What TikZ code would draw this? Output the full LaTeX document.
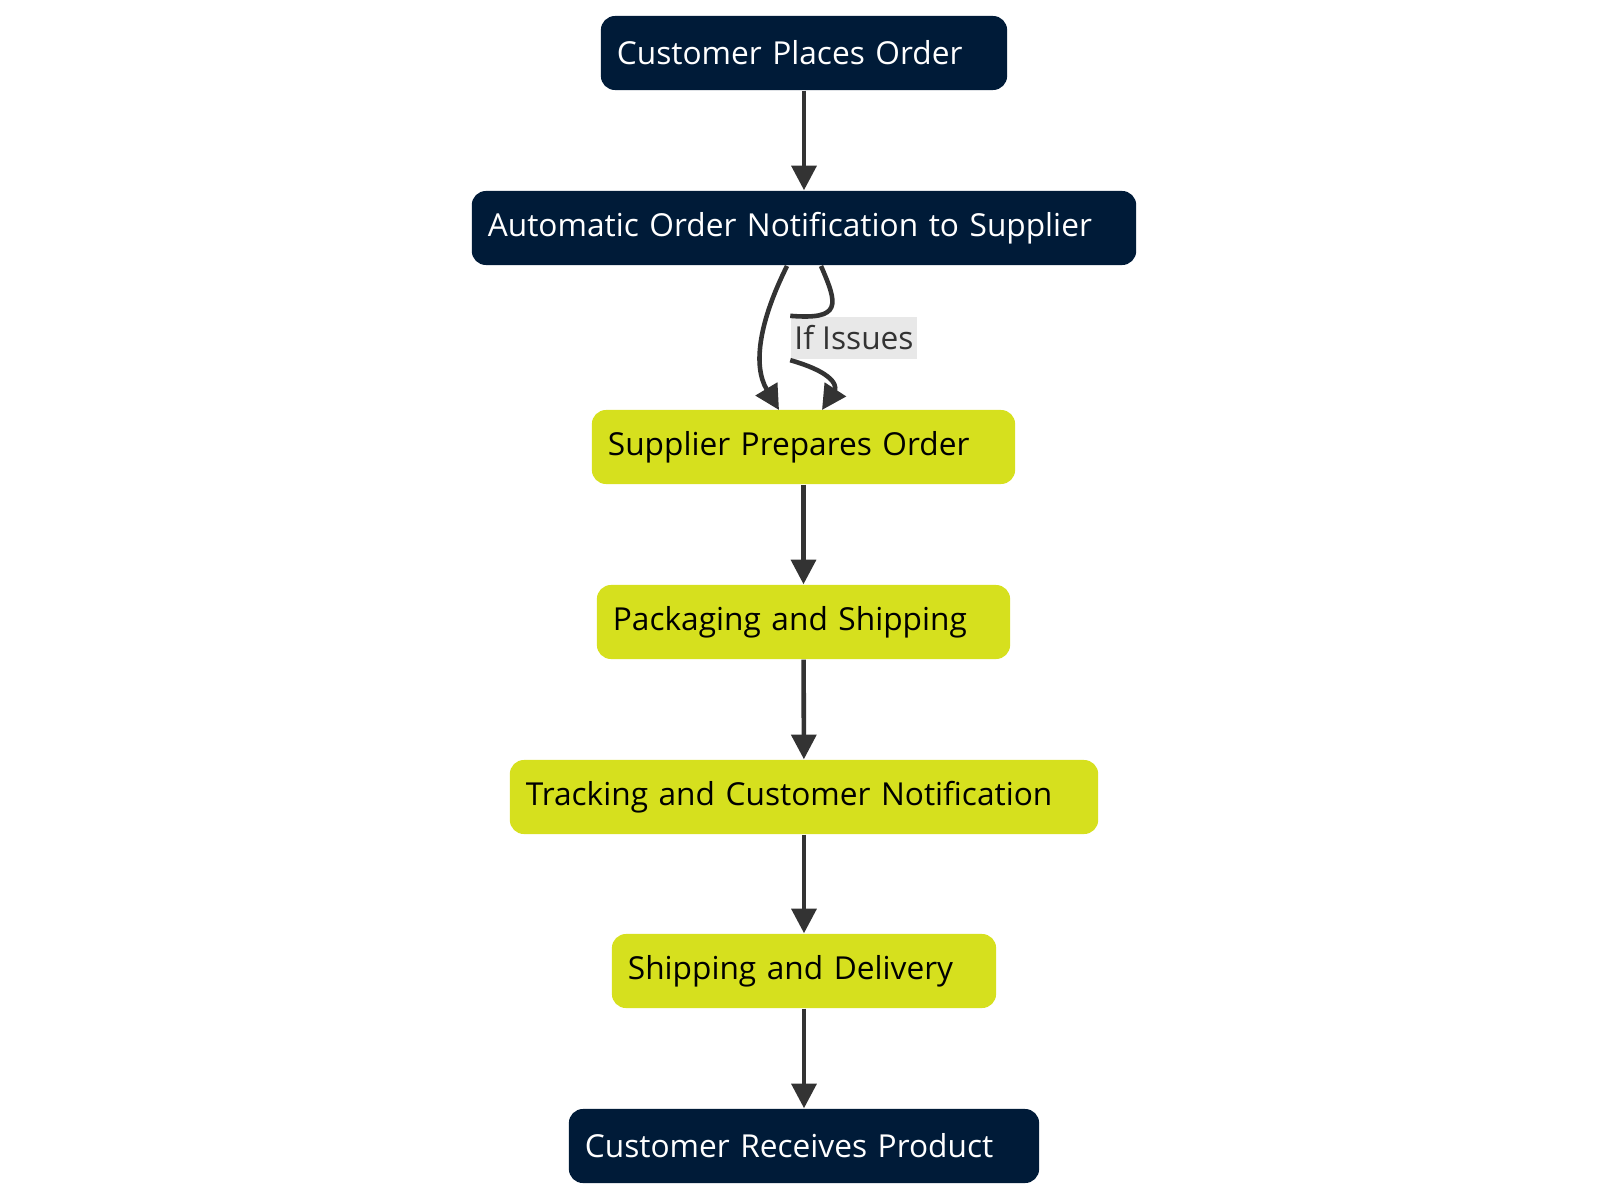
\documentclass[tikz,border=0pt]{standalone}
\usepackage{fontspec}
\setmainfont{Open Sans}
\usetikzlibrary{arrows.meta}
\definecolor{navy}{HTML}{001B38}
\definecolor{lime}{HTML}{D6E01E}
\definecolor{edge}{HTML}{333333}
\begin{document}
\begin{tikzpicture}[x=0.01cm,y=-0.01cm,
 box/.style={rounded corners=4pt,inner sep=0pt,font=\fontsize{9pt}{11pt}\selectfont,align=left,minimum height=21.05pt},
 dark/.style={box,fill=navy,text=white},
 light/.style={box,fill=lime,text=black},
 arr/.style={draw=edge,line width=1.3pt,-{Triangle[length=7pt,width=7pt]}}]
\useasboundingbox (0,0) rectangle (1600,1194);
\newcommand{\bx}[6]{\node[#1,minimum width={(#4-#3)*0.28453pt},text width={(#4-#3-32)*0.28453pt}] (#2) at ({(#3+#4)/2},#5) {#6};}
\bx{dark}{a}{601}{1007}{53}{Customer Places Order}
\bx{dark}{b}{472}{1136}{228}{Automatic Order Notification to Supplier}
\bx{light}{c}{592}{1015}{447}{Supplier Prepares Order}
\bx{light}{d}{597}{1010}{622}{Packaging and Shipping}
\bx{light}{e}{510}{1098}{797}{Tracking and Customer Notification}
\bx{light}{f}{612}{996}{971}{Shipping and Delivery}
\bx{dark}{g}{569}{1039}{1146}{Customer Receives Product}
\draw[arr] (a) -- (b);
\draw[arr] (c) -- (d);
\draw[arr] (d) -- (e);
\draw[arr] (e) -- (f);
\draw[arr] (f) -- (g);
\coordinate (b1) at (787,266);
\coordinate (b2) at (821,266);
\coordinate (c1) at (779,410);
\coordinate (c2) at (822,410);
\draw[arr] (b1) .. controls (760,320) and (752,365) .. (c1);
\node[fill=black!9,text=edge,font=\fontsize{9pt}{11pt}\selectfont,inner xsep=1pt,inner ysep=0pt,minimum height=12.2pt] (lbl) at (854,338) {If Issues};
\draw[arr] (b2) .. controls (838,305) and (842,320) .. (lbl.north west) (lbl.south west) .. controls (842,375) and (835,390) .. (c2);
\end{tikzpicture}
\end{document}
